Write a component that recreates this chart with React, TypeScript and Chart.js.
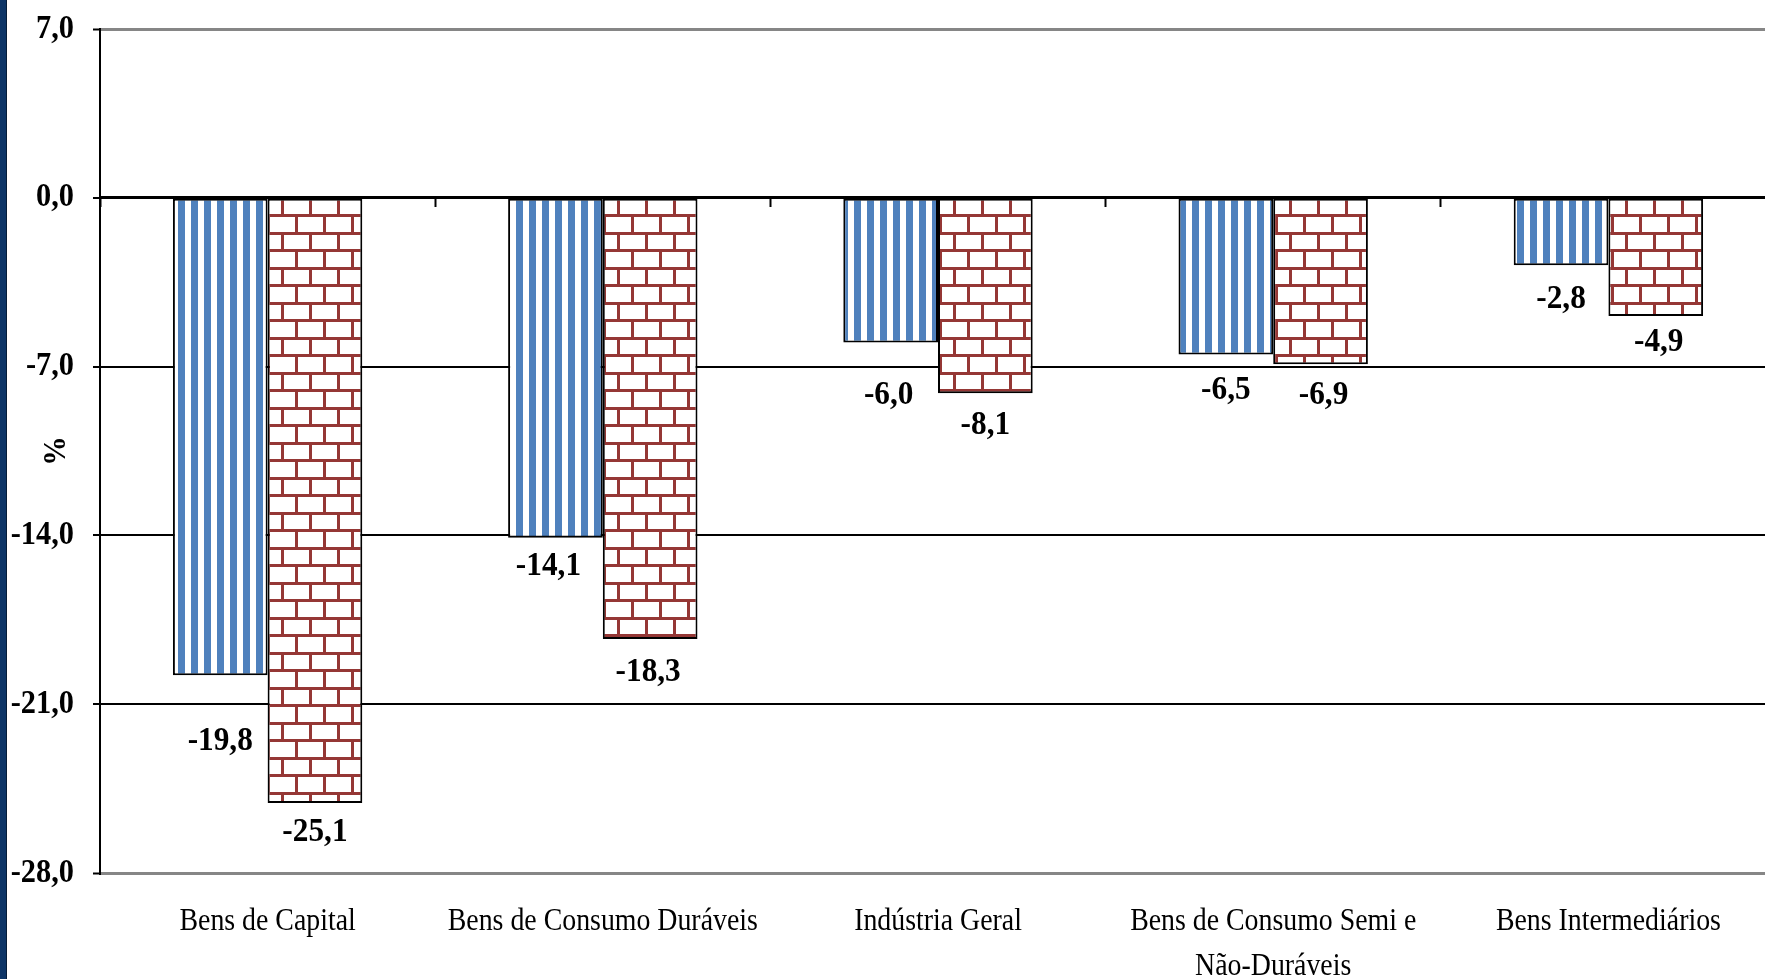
import React, { useEffect, useRef } from 'react';
import { Chart, registerables } from 'chart.js';

Chart.register(...registerables);

// ---- data ----
const categories: (string | string[])[] = [
  'Bens de Capital',
  'Bens de Consumo Duráveis',
  'Indústria Geral',
  ['Bens de Consumo Semi e', 'Não-Duráveis'],
  'Bens Intermediários',
];
const seriesBlue = [-19.8, -14.1, -6.0, -6.5, -2.8];
const seriesRed = [-25.1, -18.3, -8.1, -6.9, -4.9];
const yMin = -28;
const yMax = 7;
const yStep = 7;
const yTitle = '%';

// ---- style ----
const BLUE = '#4F81BD';
const RED = '#953735';
const GREY = '#868686';
const FONT = "'Liberation Serif', 'Times New Roman', serif";
// distance (px) of each value label below its bar end, and small sideways nudges
const blueLabelGap = [66, 28, 53, 36, 34];
const redLabelGap = [29, 33, 32, 31, 26];
const blueLabelDx = [0, -7, -2, 0, 0];
const redLabelDx = [0, -2, 0, 3, 3];

const fmt = (v: number) => (Math.abs(v) < 1e-9 ? 0 : v).toFixed(1).replace('.', ',');

function stripePattern(ctx: CanvasRenderingContext2D) {
  const c = document.createElement('canvas');
  c.width = 13;
  c.height = 13;
  const g = c.getContext('2d')!;
  g.fillStyle = '#fff';
  g.fillRect(0, 0, 13, 13);
  g.fillStyle = BLUE;
  g.fillRect(0, 0, 7, 13);
  const p = ctx.createPattern(c, 'repeat')!;
  p.setTransform(new DOMMatrix().translate(9, 0));
  return p;
}

function brickPattern(ctx: CanvasRenderingContext2D) {
  const c = document.createElement('canvas');
  c.width = 28;
  c.height = 35;
  const g = c.getContext('2d')!;
  g.fillStyle = '#fff';
  g.fillRect(0, 0, 28, 35);
  g.fillStyle = RED;
  g.fillRect(0, 0, 28, 3);
  g.fillRect(0, 3, 3, 14);
  g.fillRect(0, 17, 28, 3);
  g.fillRect(14, 20, 3, 15);
  const p = ctx.createPattern(c, 'repeat')!;
  p.setTransform(new DOMMatrix().translate(1, 22));
  return p;
}

const valueLabels = {
  id: 'valueLabels',
  afterDatasetsDraw(chart: any) {
    const ctx = chart.ctx as CanvasRenderingContext2D;
    ctx.save();
    ctx.font = `bold 34px ${FONT}`;
    ctx.fillStyle = '#000';
    ctx.textAlign = 'center';
    ctx.textBaseline = 'middle';
    chart.data.datasets.forEach((ds: any, di: number) => {
      const meta = chart.getDatasetMeta(di);
      const gaps = di === 0 ? blueLabelGap : redLabelGap;
      const dxs = di === 0 ? blueLabelDx : redLabelDx;
      meta.data.forEach((el: any, i: number) => {
        const v = ds.data[i] as number;
        ctx.fillText(fmt(v), el.x + (dxs[i] || 0), el.y + (gaps[i] || 30));
      });
    });
    ctx.restore();
  },
};

export default function App() {
  const ref = useRef<HTMLCanvasElement | null>(null);

  useEffect(() => {
    const canvas = ref.current!;
    const ctx = canvas.getContext('2d')!;
    // horizontally condensed lettering, as in the original
    const orig = ctx.fillText.bind(ctx);
    (ctx as any).fillText = (text: string, x: number, y: number, maxWidth?: number) => {
      const sx = /bold/.test(ctx.font) ? 0.92 : 0.87;
      ctx.save();
      ctx.translate(x, y);
      ctx.scale(sx, 1);
      if (maxWidth === undefined) orig(text, 0, 0);
      else orig(text, 0, 0, maxWidth);
      ctx.restore();
    };

    const chart = new Chart(ctx, {
      type: 'bar',
      data: {
        labels: categories as any,
        datasets: [
          {
            label: 'Série 1',
            data: seriesBlue,
            xAxisID: 'x',
            yAxisID: 'y',
            backgroundColor: stripePattern(ctx),
            borderColor: '#000',
            borderWidth: 2,
            borderSkipped: false,
            categoryPercentage: 0.565,
            barPercentage: 1.0,
          },
          {
            label: 'Série 2',
            data: seriesRed,
            xAxisID: 'x',
            yAxisID: 'y',
            backgroundColor: brickPattern(ctx),
            borderColor: '#000',
            borderWidth: 2,
            borderSkipped: false,
            categoryPercentage: 0.565,
            barPercentage: 1.0,
          },
        ],
      },
      options: {
        responsive: false,
        animation: false,
        devicePixelRatio: 1,
        layout: { padding: { left: 0, right: 14, top: 29, bottom: 0 } },
        plugins: {
          legend: { display: false },
          tooltip: { enabled: false },
          title: { display: false },
        },
        scales: {
          x: {
            type: 'category',
            position: 'bottom',
            offset: true,
            grid: { display: false, drawTicks: false },
            border: { display: false },
            ticks: {
              color: '#000',
              font: { family: FONT, size: 32, weight: 'normal', lineHeight: 1.38 },
              padding: 27,
              autoSkip: false,
              maxRotation: 0,
              minRotation: 0,
            },
            afterFit: (s: any) => {
              s.height = 106;
              s.paddingLeft = 0;
              s.paddingRight = 0;
            },
          },
          x2: {
            type: 'category',
            position: { y: 0 } as any,
            offset: true,
            grid: {
              offset: true,
              drawOnChartArea: false,
              drawTicks: true,
              tickLength: 8,
              tickColor: '#000',
              tickWidth: 2,
            },
            border: { display: true, color: '#000', width: 3 },
            ticks: { display: false },
          },
          y: {
            type: 'linear',
            position: 'left',
            min: yMin,
            max: yMax,
            ticks: {
              stepSize: yStep,
              color: '#000',
              font: { family: FONT, size: 33, weight: 'bold' },
              padding: 19,
              callback: (v: any) => fmt(Number(v)),
            },
            grid: {
              color: (c: any) => (c.tick && (c.tick.value === yMax || c.tick.value === yMin) ? GREY : '#000'),
              lineWidth: (c: any) => (c.tick && (c.tick.value === yMax || c.tick.value === yMin) ? 3 : 2),
              drawTicks: true,
              tickLength: 7,
              tickColor: '#000',
              tickWidth: 2,
            },
            border: { display: true, color: '#000', width: 2 },
            title: {
              display: true,
              text: yTitle,
              color: '#000',
              font: { family: FONT, size: 32, weight: 'bold', lineHeight: 1.2 },
              padding: { top: 38, bottom: 0 },
            },
            afterFit: (s: any) => {
              s.width = 100;
              s.paddingTop = 0;
              s.paddingBottom = 0;
            },
          },
        },
      },
      plugins: [valueLabels],
    });

    return () => {
      chart.destroy();
    };
  }, []);

  return (
    <div
      style={{
        position: 'fixed',
        left: 0,
        top: 0,
        width: 1765,
        height: 979,
        overflow: 'hidden',
        background: '#fff',
      }}
    >
      <canvas ref={ref} width={1790} height={979} style={{ display: 'block' }} />
      <div
        style={{
          position: 'absolute',
          left: 0,
          top: 0,
          width: 6,
          height: 979,
          background: '#0d3567',
          borderRight: '1px solid #061c38',
        }}
      />
    </div>
  );
}
